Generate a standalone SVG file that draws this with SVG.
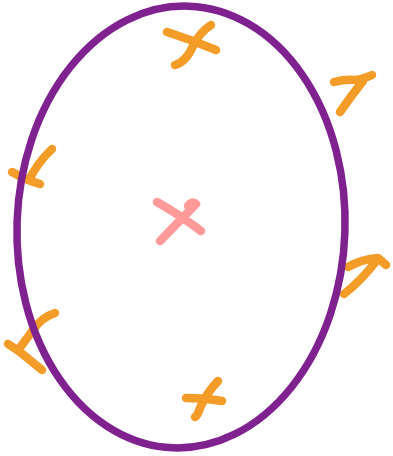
<svg xmlns="http://www.w3.org/2000/svg" width="393" height="456" viewBox="0 0 393 456">
<style>
.m{fill:none;stroke:#F49C28;stroke-width:8.5;stroke-linecap:round;stroke-linejoin:round}
.p{fill:none;stroke:#FF9A9A;stroke-width:8.5;stroke-linecap:round;stroke-linejoin:round}
.e{fill:none;stroke:#7F2290;stroke-width:7.5}
</style>
<rect width="393" height="456" fill="#fff"/>
<g id="mark-top"><path class="m" d="M167,32 Q192,40 216,50"/><path class="m" d="M211,25 Q200,32 193,46 Q186,62 175,65"/></g>
<g id="mark-top-right"><path class="m" d="M334,82 Q345,79 356,80 Q366,78 372,75"/><path class="m" d="M363,81 Q351,96 340,112"/></g>
<g id="mark-left"><path class="m" d="M12,172 Q26,180 40,184"/><path class="m" d="M52,149 Q38,162 29,180"/></g>
<g id="mark-center"><path class="p" d="M157,202 Q180,215 201,231"/><path class="p" d="M188,206 Q192,200 196,204 L160,241"/></g>
<g id="mark-right"><path class="m" d="M348,267 Q362,259 378,258 L386,265"/><path class="m" d="M377,260 Q362,280 344,294"/></g>
<g id="mark-bottom-left"><path class="m" d="M55,313 Q42,317 33,330 L19,349"/><path class="m" d="M8,344 L20,352 L42,370"/></g>
<g id="mark-bottom"><path class="m" d="M186,398 Q205,398 222,401"/><path class="m" d="M218,381 Q205,395 200,408 Q198,415 195,417"/></g>
<g id="ellipse"><ellipse class="e" cx="181" cy="227" rx="164" ry="221" transform="rotate(2 181 227)"/></g>
</svg>
